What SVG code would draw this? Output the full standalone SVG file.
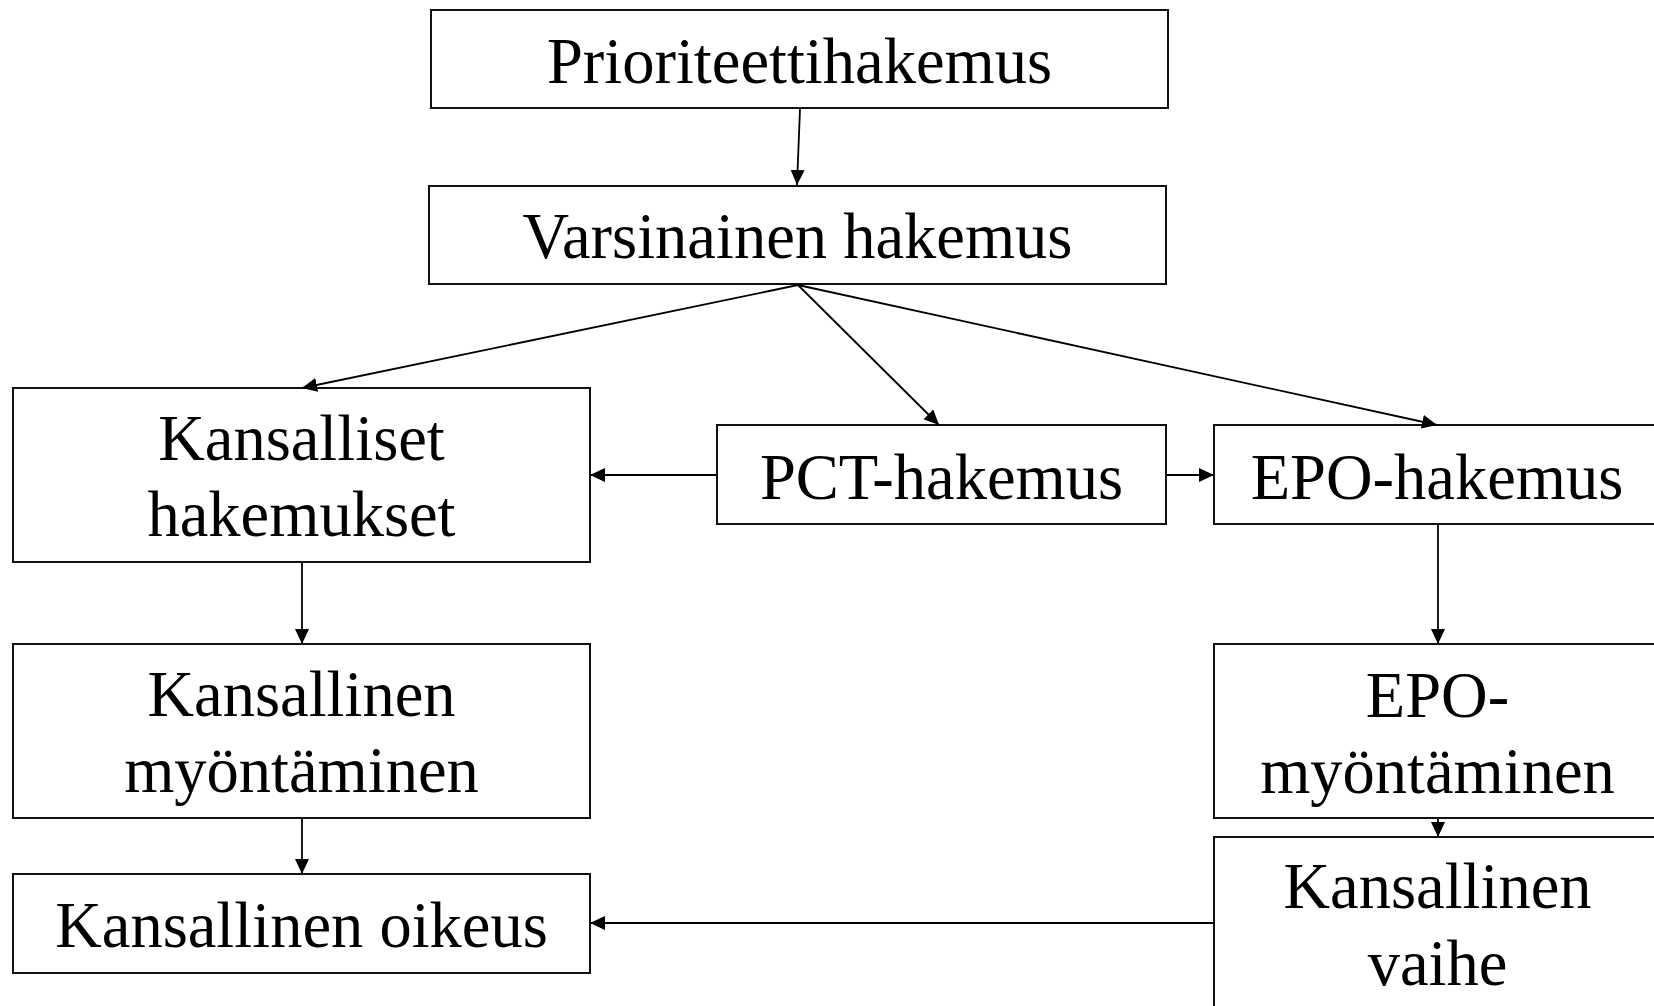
<svg xmlns="http://www.w3.org/2000/svg" width="1654" height="1006" viewBox="0 0 1654 1006">
<style>
.box{fill:#fff;stroke:#111;stroke-width:2}
.t{font-family:"Liberation Serif","Times New Roman",serif;font-size:64.5px;fill:#000;text-anchor:middle}
.c{stroke:#000;stroke-width:1.8;fill:none;marker-end:url(#ah)}
</style>
<defs>
<marker id="ah" markerUnits="userSpaceOnUse" markerWidth="16" markerHeight="14" refX="15" refY="7" orient="auto">
<path d="M0,0 L15,7 L0,14 z" fill="#000"/>
</marker>
</defs>
<rect width="1654" height="1006" fill="#fff"/>
<g id="n-prio"><rect class="box" x="431" y="10" width="737" height="98"/><text class="t" x="799.5" y="83">Prioriteettihakemus</text></g>
<g id="n-vars"><rect class="box" x="429" y="186" width="737" height="98"/><text class="t" x="797.5" y="258">Varsinainen hakemus</text></g>
<g id="n-kanshak"><rect class="box" x="13" y="388" width="577" height="174"/><text class="t" x="301.5" y="460">Kansalliset</text><text class="t" x="301.5" y="536">hakemukset</text></g>
<g id="n-pct"><rect class="box" x="717" y="425" width="449" height="99"/><text class="t" x="941.5" y="499">PCT-hakemus</text></g>
<g id="n-epo"><rect class="box" x="1214" y="425" width="460" height="99"/><text class="t" x="1437" y="499">EPO-hakemus</text></g>
<g id="n-kansmyont"><rect class="box" x="13" y="644" width="577" height="174"/><text class="t" x="301.5" y="716">Kansallinen</text><text class="t" x="301.5" y="792">myöntäminen</text></g>
<g id="n-epomyont"><rect class="box" x="1214" y="644" width="460" height="174"/><text class="t" x="1437.5" y="717">EPO-</text><text class="t" x="1437.5" y="793">myöntäminen</text></g>
<g id="n-kansoik"><rect class="box" x="13" y="874" width="577" height="99"/><text class="t" x="301.5" y="947">Kansallinen oikeus</text></g>
<g id="n-kansvaihe"><rect class="box" x="1214" y="837" width="460" height="200"/><text class="t" x="1437.5" y="908">Kansallinen</text><text class="t" x="1437.5" y="985">vaihe</text></g>
<g id="connectors">
<line class="c" x1="800" y1="109" x2="797" y2="185"/>
<line class="c" x1="798" y1="285" x2="302" y2="388"/>
<line class="c" x1="798" y1="285" x2="939" y2="425"/>
<line class="c" x1="798" y1="285" x2="1437" y2="425"/>
<line class="c" x1="716" y1="475" x2="590" y2="475"/>
<line class="c" x1="1167" y1="475" x2="1214" y2="475"/>
<line class="c" x1="302" y1="563" x2="302" y2="644"/>
<line class="c" x1="1438" y1="525" x2="1438" y2="644"/>
<line class="c" x1="302" y1="819" x2="302" y2="874"/>
<line class="c" x1="1438" y1="819" x2="1438" y2="837"/>
<line class="c" x1="1213" y1="923" x2="590" y2="923"/>
</g>
</svg>
